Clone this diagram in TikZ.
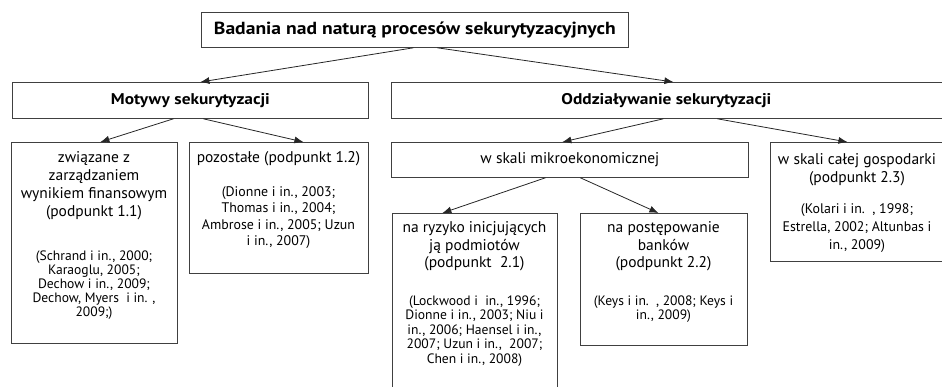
\documentclass[tikz,border=0pt]{standalone}
\usepackage{fontspec}
\setmainfont{PT Sans}
\newfontfamily\hdrfont[FakeStretch=1.12]{PT Sans Bold}
\usetikzlibrary{arrows.meta}
\tikzset{
  box/.style={draw=black!75, line width=0.8pt, inner sep=0pt, anchor=north west},
  hdr/.style={box, font=\hdrfont\fontsize{15.5}{17}\selectfont},
  plain/.style={box, font=\fontsize{15.5}{17}\selectfont},
  maintxt/.style={anchor=north, inner sep=0pt, align=center, font=\fontsize{15.5}{#1}\selectfont},
  citetxt/.style={anchor=north, inner sep=0pt, align=center, font=\fontsize{13.6}{#1}\selectfont},
  citebig/.style={anchor=north, inner sep=0pt, align=center, font=\fontsize{13.9}{#1}\selectfont},
  conn/.style={draw=black!85, line width=0.8pt, -{Latex[length=9pt,width=7pt]}}
}
\begin{document}
\begin{tikzpicture}[x=1pt,y=-1pt]
\useasboundingbox (0,0) rectangle (942,387);
% boxes
\node[box, minimum width=427, minimum height=35, font=\hdrfont\fontsize{17.5}{19}\selectfont] (top) at (201,12) {Badania nad naturą procesów sekurytyzacyjnych};
\node[hdr, minimum width=356, minimum height=36] (mot) at (12,82) {Motywy sekurytyzacji};
\node[hdr, minimum width=553, minimum height=36] (odd) at (391,82) {\hspace*{-3pt}Oddziaływanie sekurytyzacji};
\node[box, minimum width=166, minimum height=201] (zw) at (11,142) {};
\node[box, minimum width=179, minimum height=131] (poz) at (189,142) {};
\node[plain, minimum width=357, minimum height=35] (mik) at (391,142) {w skali mikroekonomicznej};
\node[box, minimum width=174, minimum height=119] (gos) at (770,142) {};
\node[box, minimum width=165, minimum height=190] (ryz) at (392,213) {};
\node[box, minimum width=167, minimum height=132] (pos) at (580,213) {};
% texts
\node[maintxt=18] (zwA) at (94,151.5) {związane z\\zarządzaniem\\wynikiem finansowym\\(podpunkt 1.1)};
\node[citetxt=14] (zwB) at (94,250.5) {(Schrand i in., 2000;\\Karaoglu, 2005;\\Dechow i in., 2009;\\Dechow, Myers\ \ i in. ,\\2009;)};
\node[maintxt=18] (pozA) at (278.5,151.5) {pozostałe (podpunkt 1.2)};
\node[citebig=16.3] (pozB) at (278.5,186.5) {(Dionne i in., 2003;\\Thomas i in., 2004;\\Ambrose i in., 2005; Uzun\\i in., 2007)};
\node[maintxt=18] (gosA) at (857,153.5) {w skali całej gospodarki\\(podpunkt 2.3)};
\node[citebig=18] (gosB) at (857,203.5) {(Kolari i in.\ \ , 1998;\\Estrella, 2002; Altunbas i\\in., 2009)};
\node[maintxt=17.5] (ryzA) at (474.5,221.5) {na ryzyko inicjujących\\ją podmiotów\\(podpunkt\ \ 2.1)};
\node[citetxt=14.5] (ryzB) at (474.5,295.5) {(Lockwood i\ \ in., 1996;\\Dionne i in., 2003; Niu i\\in., 2006; Haensel i in.,\\2007; Uzun i in.,\ \ 2007;\\Chen i in., 2008)};
\node[maintxt=17.5] (posA) at (663.5,221.5) {na postępowanie\\banków\\(podpunkt 2.2)};
\node[citetxt=14.5] (posB) at (663.5,295.5) {(Keys i in.\ \ , 2008; Keys i\\in., 2009)};
% connectors
\draw[conn] ([xshift=-1.5pt]top.south) -- ([xshift=10pt]mot.north);
\draw[conn] ([xshift=22.5pt]top.south) -- ([xshift=5.5pt]odd.north);
\draw[conn] ([xshift=-17pt]mot.south) -- ([xshift=6pt]zw.north);
\draw[conn] ([xshift=13pt]mot.south) -- ([xshift=24.5pt]poz.north);
\draw[conn] ([xshift=-4.5pt]odd.south) -- ([xshift=-7.5pt]mik.north);
\draw[conn] ([xshift=49.5pt]odd.south) -- ([xshift=-10pt]gos.north);
\draw[conn] ([xshift=-24.5pt]mik.south) -- ([xshift=-32.5pt]ryz.north);
\draw[conn] ([xshift=10.5pt]mik.south) -- ([xshift=-5.5pt]pos.north);
\end{tikzpicture}
\end{document}
